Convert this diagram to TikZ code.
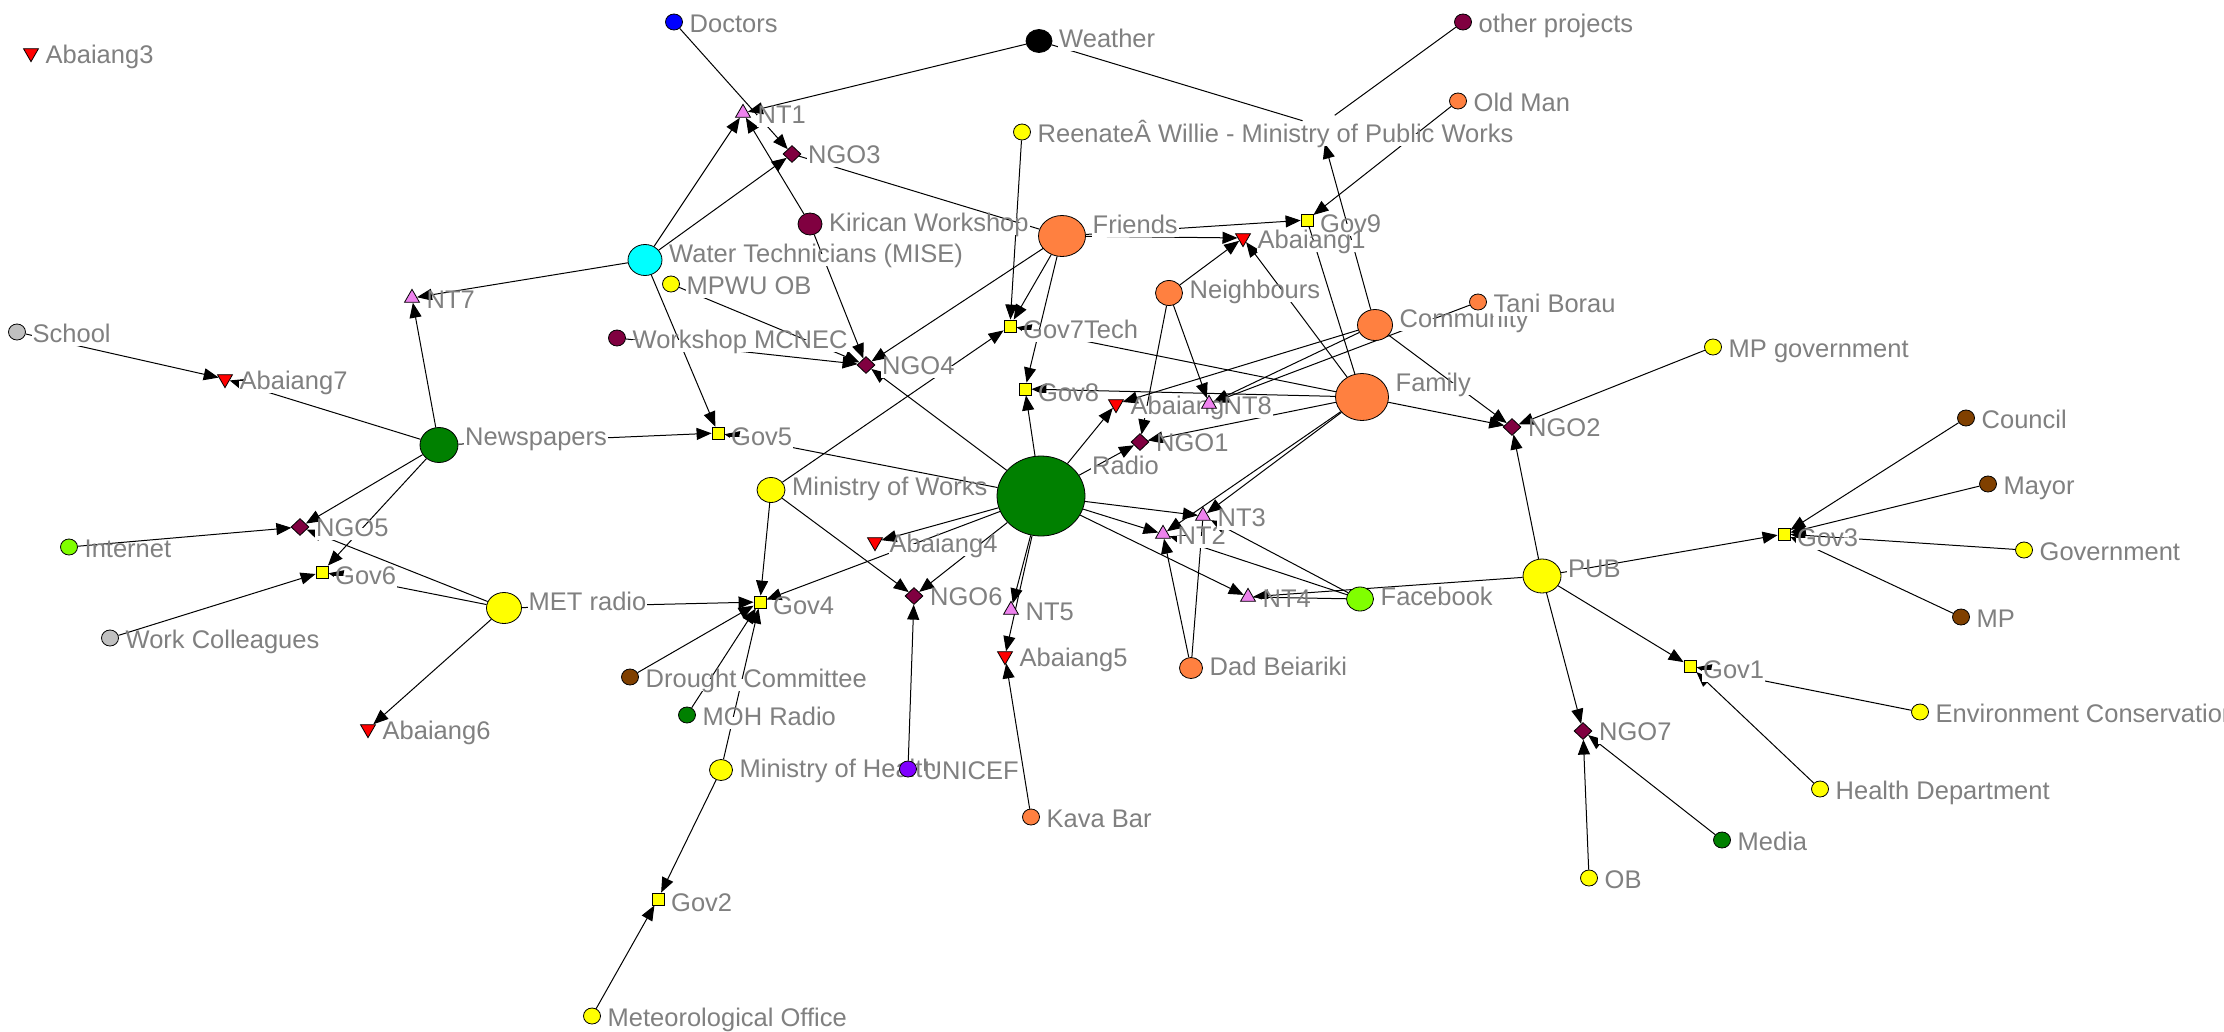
\documentclass[tikz,border=0pt]{standalone}
\usepackage{fontspec}
\setmainfont{Liberation Sans}
\usetikzlibrary{shapes.geometric,arrows.meta,calc}
\pgfdeclarelayer{bg}\pgfdeclarelayer{edges}\pgfdeclarelayer{labels}
\pgfsetlayers{bg,edges,labels,main}
\definecolor{cOrange}{RGB}{255,128,64}
\definecolor{cMaroon}{RGB}{128,0,64}
\definecolor{cBrown}{RGB}{128,64,0}
\definecolor{cLime}{RGB}{128,255,0}
\definecolor{cPurple}{RGB}{128,0,255}
\definecolor{cGray}{RGB}{192,192,192}
\definecolor{cGreen}{RGB}{0,128,0}
\definecolor{cCyan}{RGB}{0,255,255}
\definecolor{cYellow}{RGB}{255,255,0}
\definecolor{cBlue}{RGB}{0,0,255}
\definecolor{cViolet}{RGB}{238,130,238}
\definecolor{cRed}{RGB}{255,0,0}
\definecolor{labelgray}{RGB}{128,128,128}
\newcommand\NetNode[7]{%
  \node[minimum width=#5pt, minimum height=#6pt, #4] (#1) at (#2,#3) {};
  \begin{pgfonlayer}{labels}
  \node[lbl] (#1-l) at (#2+#5/2+6, #3-#6/2+18.3) {#7};
  \end{pgfonlayer}}
\begin{document}
\begin{tikzpicture}[x=1pt,y=-1pt,
  lbl/.style={anchor=base west, inner sep=1pt, fill=white, text=labelgray,
    text height=0.74em, text depth=0.25em, font=\fontsize{25.5}{28}\selectfont},
  circ/.style={ellipse, draw=black, line width=0.8pt, inner sep=0pt, fill=#1},
  sq/.style={rectangle, draw=black, line width=0.8pt, inner sep=0pt, minimum size=12pt, fill=cYellow},
  dia/.style={diamond, draw=black, line width=0.8pt, inner sep=0pt, minimum width=18pt, minimum height=17pt, fill=cMaroon},
  tup/.style={regular polygon, regular polygon sides=3, draw=black, line width=0.8pt, inner sep=0pt, minimum size=17.3pt, fill=cViolet},
  tdown/.style={regular polygon, regular polygon sides=3, shape border rotate=180, draw=black, line width=0.8pt, inner sep=0pt, minimum size=17.3pt, fill=cRed},
  ln/.style={draw=black, line width=1pt},
  ar/.style={ln, -{Triangle[length=15pt,width=12pt]}}]
\useasboundingbox (0,0) rectangle (2224,1031);
\begin{pgfonlayer}{bg}
\fill[white] (0,0) rectangle (2224,1031);
\end{pgfonlayer}
% nodes
\NetNode{A3}{31}{53}{tdown}{15}{15}{Abaiang3}
\NetNode{doc}{674}{22}{circ=cBlue}{17}{16}{Doctors}
\NetNode{wea}{1039}{41}{circ=black}{26}{23}{Weather}
\NetNode{oth}{1463}{22}{circ=cMaroon}{17}{16}{other projects}
\NetNode{old}{1458}{101}{circ=cOrange}{17}{16}{Old Man}
\node[circle, inner sep=0pt, minimum size=36pt] (hid) at (1320,126) {};
\NetNode{ree}{1022}{132}{circ=cYellow}{17}{16}{ReenateÂ Willie - Ministry of Public Works}
\NetNode{nt1}{743}{113}{tup}{15}{15}{NT1}
\NetNode{ngo3}{792}{154}{dia}{18}{17}{NGO3}
\NetNode{kir}{810}{224}{circ=cMaroon}{24}{22}{Kirican Workshop}
\NetNode{fri}{1062}{236}{circ=cOrange}{47}{41}{Friends}
\NetNode{gov9}{1307}{220}{sq}{12}{12}{Gov9}
\NetNode{ab1}{1243}{238}{tdown}{15}{15}{Abaiang1}
\NetNode{wat}{645}{260}{circ=cCyan}{34}{31}{Water Technicians (MISE)}
\NetNode{mpwu}{671}{284}{circ=cYellow}{17}{16}{MPWU OB}
\NetNode{nt7}{412}{298}{tup}{15}{15}{NT7}
\NetNode{sch}{17}{332}{circ=cGray}{17}{16}{School}
\NetNode{mcn}{617}{338}{circ=cMaroon}{17}{16}{Workshop MCNEC}
\NetNode{ab7}{225}{379}{tdown}{15}{15}{Abaiang7}
\NetNode{nei}{1169}{293}{circ=cOrange}{27}{25}{Neighbours}
\NetNode{com}{1375}{325}{circ=cOrange}{35}{31}{Community}
\NetNode{tani}{1478}{302}{circ=cOrange}{17}{16}{Tani Borau}
\NetNode{g7}{1010}{326}{sq}{12}{12}{Gov7Tech}
\NetNode{ngo4}{866}{365}{dia}{18}{17}{NGO4}
\NetNode{mpg}{1713}{347}{circ=cYellow}{17}{16}{MP government}
\NetNode{gov8}{1025}{389}{sq}{12}{12}{Gov8}
\NetNode{ab}{1116}{404}{tdown}{15}{15}{Abaiang}
\NetNode{nt8}{1209}{404}{tup}{15}{15}{NT8}
\NetNode{fam}{1362}{397}{circ=cOrange}{53}{47}{Family}
\NetNode{ngo2}{1512}{427}{dia}{18}{17}{NGO2}
\NetNode{ngo1}{1140}{442}{dia}{18}{17}{NGO1}
\NetNode{cou}{1966}{418}{circ=cBrown}{17}{16}{Council}
\NetNode{news}{439}{445}{circ=cGreen}{38}{35}{Newspapers}
\NetNode{gov5}{718}{433}{sq}{12}{12}{Gov5}
\NetNode{mw}{771}{490}{circ=cYellow}{28}{25}{Ministry of Works}
\NetNode{rad}{1041}{496}{circ=cGreen}{88}{80}{Radio}
\NetNode{may}{1988}{484}{circ=cBrown}{17}{16}{Mayor}
\NetNode{ngo5}{300}{527}{dia}{18}{17}{NGO5}
\NetNode{int}{69}{547}{circ=cLime}{17}{16}{Internet}
\NetNode{gov6}{322}{572}{sq}{12}{12}{Gov6}
\NetNode{met}{504}{608}{circ=cYellow}{35}{31}{MET radio}
\NetNode{wc}{110}{638}{circ=cGray}{17}{16}{Work Colleagues}
\NetNode{ab4}{875}{542}{tdown}{15}{15}{Abaiang4}
\NetNode{gov4}{760}{602}{sq}{12}{12}{Gov4}
\NetNode{ngo6}{914}{596}{dia}{18}{17}{NGO6}
\NetNode{nt5}{1011}{610}{tup}{15}{15}{NT5}
\NetNode{ab5}{1005}{656}{tdown}{15}{15}{Abaiang5}
\NetNode{nt2}{1163}{534}{tup}{15}{15}{NT2}
\NetNode{nt3}{1203}{516}{tup}{15}{15}{NT3}
\NetNode{nt4}{1248}{597}{tup}{15}{15}{NT4}
\NetNode{fb}{1360}{599}{circ=cLime}{27}{24}{Facebook}
\NetNode{dad}{1191}{668}{circ=cOrange}{23}{21}{Dad Beiariki}
\NetNode{pub}{1542}{576}{circ=cYellow}{38}{34}{PUB}
\NetNode{gov3}{1784}{534}{sq}{12}{12}{Gov3}
\NetNode{gvt}{2024}{550}{circ=cYellow}{17}{16}{Government}
\NetNode{mp}{1961}{617}{circ=cBrown}{17}{16}{MP}
\NetNode{gov1}{1690}{666}{sq}{12}{12}{Gov1}
\NetNode{env}{1920}{712}{circ=cYellow}{17}{16}{Environment Conservation}
\NetNode{ngo7}{1583}{731}{dia}{18}{17}{NGO7}
\NetNode{hd}{1820}{789}{circ=cYellow}{17}{16}{Health Department}
\NetNode{med}{1722}{840}{circ=cGreen}{17}{16}{Media}
\NetNode{ob}{1589}{878}{circ=cYellow}{17}{16}{OB}
\NetNode{dro}{630}{677}{circ=cBrown}{17}{16}{Drought Committee}
\NetNode{moh}{687}{715}{circ=cGreen}{17}{16}{MOH Radio}
\NetNode{ab6}{368}{729}{tdown}{15}{15}{Abaiang6}
\NetNode{mh}{721}{770}{circ=cYellow}{23}{21}{Ministry of Health}
\NetNode{uni}{908}{769}{circ=cPurple}{17}{16}{UNICEF}
\NetNode{kava}{1031}{817}{circ=cOrange}{17}{16}{Kava Bar}
\NetNode{gov2}{658}{899}{sq}{12}{12}{Gov2}
\NetNode{mo}{592}{1016}{circ=cYellow}{17}{16}{Meteorological Office}
% edges
\begin{pgfonlayer}{edges}
\draw[ar] (doc) -- (ngo3);
\draw[ar] (kir) -- (nt1);
\draw[ar] (wat) -- (nt1);
\draw[ar] (wat) -- (ngo3);
\draw[ar] (wea) -- (nt1);
\draw[ln] (wea) -- (hid);
\draw[ln] (oth) -- (hid);
\draw[ar] (com) -- (hid);
\draw[ar] (old) -- (gov9);
\draw[ar] (ree) -- (g7);
\draw[ar] (fri) -- (g7);
\draw[ar] (fri) -- (gov8);
\draw[ar] (fri) -- (gov9);
\draw[ar] (fri) -- (ab1);
\draw[ar] (fri) -- (ngo4);
\draw[ln] (fri) -- (ngo3);
\draw[ar] (kir) -- (ngo4);
\draw[ar] (mcn) -- (ngo4);
\draw[ar] (mpwu) -- (ngo4);
\draw[ar] (wat) -- (gov5);
\draw[ar] (news) -- (gov5);
\draw[ar] (rad) -- (gov5);
\draw[ar] (mw) -- (g7);
\draw[ar] (mw) -- (gov4);
\draw[ar] (mw) -- (ngo6);
\draw[ar] (news) -- (nt7);
\draw[ar] (news) -- (ab7);
\draw[ar] (sch) -- (ab7);
\draw[ar] (wat) -- (nt7);
\draw[ar] (news) -- (ngo5);
\draw[ar] (news) -- (gov6);
\draw[ar] (int) -- (ngo5);
\draw[ar] (met) -- (ngo5);
\draw[ar] (met) -- (gov6);
\draw[ar] (wc) -- (gov6);
\draw[ar] (met) -- (ab6);
\draw[ar] (met) -- (gov4);
\draw[ar] (dro) -- (gov4);
\draw[ar] (moh) -- (gov4);
\draw[ar] (mh) -- (gov4);
\draw[ar] (mh) -- (gov2);
\draw[ar] (mo) -- (gov2);
\draw[ar] (uni) -- (ngo6);
\draw[ar] (kava) -- (ab5);
\draw[ar] (rad) -- (nt5);
\draw[ar] (rad) -- (ab5);
\draw[ar] (rad) -- (ngo6);
\draw[ar] (rad) -- (ab4);
\draw[ar] (rad) -- (gov4);
\draw[ar] (rad) -- (ngo4);
\draw[ar] (rad) -- (gov8);
\draw[ar] (rad) -- (ab);
\draw[ar] (rad) -- (ngo1);
\draw[ar] (rad) -- (nt3);
\draw[ar] (rad) -- (nt2);
\draw[ar] (rad) -- (nt4);
\draw[ar] (dad) -- (nt2);
\draw[ln] (dad) -- (nt3);
\draw[ar] (fb) -- (nt3);
\draw[ar] (fb) -- (nt2);
\draw[ln] (fb) -- (nt4);
\draw[ar] (pub) -- (nt4);
\draw[ar] (fam) -- (nt2);
\draw[ar] (fam) -- (nt3);
\draw[ar] (fam) -- (ngo1);
\draw[ar] (fam) -- (gov8);
\draw[ar] (fam) -- (g7);
\draw[ar] (fam) -- (ab1);
\draw[ln] (fam) -- (gov9);
\draw[ar] (fam) -- (ngo2);
\draw[ar] (com) -- (ngo2);
\draw[ar] (com) -- (ab);
\draw[ar] (com) -- (nt8);
\draw[ar] (tani) -- (nt8);
\draw[ar] (nei) -- (ab1);
\draw[ar] (nei) -- (nt8);
\draw[ar] (nei) -- (ngo1);
\draw[ar] (mpg) -- (ngo2);
\draw[ar] (pub) -- (ngo2);
\draw[ar] (pub) -- (gov3);
\draw[ar] (pub) -- (gov1);
\draw[ar] (pub) -- (ngo7);
\draw[ar] (cou) -- (gov3);
\draw[ar] (may) -- (gov3);
\draw[ar] (gvt) -- (gov3);
\draw[ar] (mp) -- (gov3);
\draw[ar] (env) -- (gov1);
\draw[ar] (hd) -- (gov1);
\draw[ar] (med) -- (ngo7);
\draw[ar] (ob) -- (ngo7);
\end{pgfonlayer}
\end{tikzpicture}
\end{document}
